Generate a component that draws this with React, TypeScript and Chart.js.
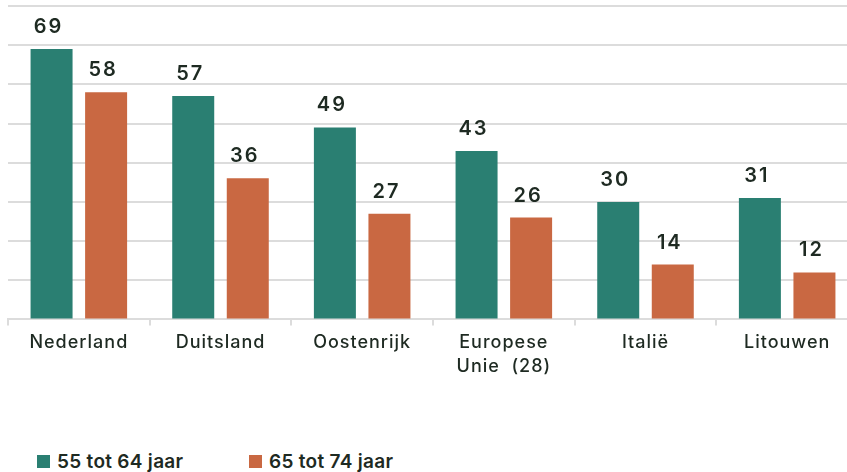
import React, { useEffect, useRef } from "react";
import { Chart, registerables } from "chart.js";

Chart.register(...registerables);

const categories: (string | string[])[] = ["Nederland", "Duitsland", "Oostenrijk", ["Europese", "Unie  (28)"], "Italië", "Litouwen"];
const series1Name = "55 tot 64 jaar";
const series2Name = "65 tot 74 jaar";
const series1 = [69, 57, 49, 43, 30, 31];
const series2 = [58, 36, 27, 26, 14, 12];

const GREEN = "#2a7f72";
const ORANGE = "#c96842";
const TEXT = "#1e2a22";
const GRID = "#dcdcdc";
const FONT = "Inter";

const spacing = {
  id: "spacing",
  beforeUpdate(chart: any) {
    (chart.ctx as any).letterSpacing = "1px";
  },
  beforeDraw(chart: any) {
    (chart.ctx as any).letterSpacing = "1px";
  },
};

const valueLabels = {
  id: "valueLabels",
  afterDatasetsDraw(chart: any) {
    const ctx = chart.ctx;
    ctx.save();
    (ctx as any).letterSpacing = "2px";
    ctx.fillStyle = TEXT;
    ctx.font = `600 20px ${FONT}`;
    ctx.textAlign = "center";
    ctx.textBaseline = "alphabetic";
    chart.data.datasets.forEach((ds: any, di: number) => {
      const meta = chart.getDatasetMeta(di);
      meta.data.forEach((bar: any, i: number) => {
        ctx.fillText(String(ds.data[i]), bar.x - 3, bar.y - 16);
      });
    });
    ctx.restore();
  },
};

export default function App() {
  const ref = useRef<HTMLCanvasElement>(null);
  useEffect(() => {
    if (!ref.current) return;
    const chart = new Chart(ref.current, {
      type: "bar",
      data: {
        labels: categories,
        datasets: [
          { label: series1Name, data: series1, backgroundColor: GREEN },
          { label: series2Name, data: series2, backgroundColor: ORANGE },
        ],
      },
      options: {
        animation: false,
        responsive: false,
        maintainAspectRatio: false,
        layout: { padding: { left: 8, right: 8, top: 6, bottom: 0 } },
        datasets: { bar: { categoryPercentage: 0.77, barPercentage: 0.77 } } as any,
        plugins: { legend: { display: false }, tooltip: { enabled: false } },
        scales: {
          x: {
            grid: { display: true, drawOnChartArea: false, drawTicks: true, tickLength: 6, color: GRID, lineWidth: 2 },
            border: { display: true, color: GRID, width: 2 },
            ticks: { color: TEXT, font: { family: FONT, size: 18, weight: 500 as any, lineHeight: 1.35 }, padding: 5, maxRotation: 0 },
          },
          y: {
            min: 0,
            max: 80,
            ticks: { display: false, stepSize: 10 },
            grid: { color: GRID, lineWidth: 2, drawTicks: false },
            border: { display: false },
          },
        },
      },
      plugins: [spacing, valueLabels],
    });
    return () => chart.destroy();
  }, []);

  const legendItem = (left: number, color: string, text: string) => (
    <div style={{ position: "absolute", left, top: 450, display: "flex", alignItems: "center", height: 22 }}>
      <span style={{ display: "inline-block", width: 13, height: 13, background: color, marginRight: 7 }} />
      <span style={{ fontFamily: FONT, fontSize: 19, fontWeight: 600, color: TEXT, whiteSpace: "nowrap", letterSpacing: "0.3px" }}>{text}</span>
    </div>
  );

  return (
    <div style={{ position: "absolute", left: 0, top: 0, width: 847, height: 472, background: "#fff", overflow: "hidden" }}>
      <canvas ref={ref} width={866} height={384} style={{ position: "absolute", left: 0, top: 0, width: 866, height: 384 }} />
      {legendItem(37, GREEN, series1Name)}
      {legendItem(249, ORANGE, series2Name)}
    </div>
  );
}
